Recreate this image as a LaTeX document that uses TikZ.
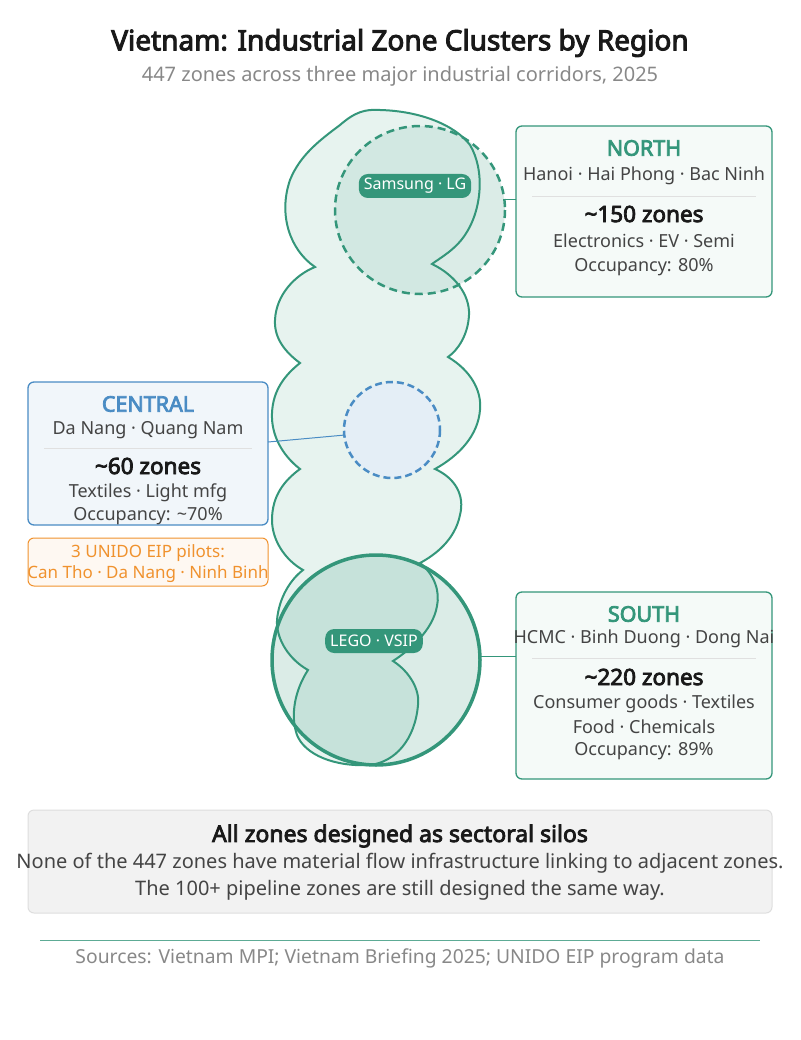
\documentclass[tikz,border=0pt]{standalone}
\usepackage{fontspec}
\setmainfont{Noto Sans}[AutoFakeBold=3.5]
\begin{document}
\definecolor{grn}{HTML}{34967A}
\definecolor{blu}{HTML}{4A8CC4}
\definecolor{org}{HTML}{F0922E}
\definecolor{gry}{HTML}{888888}
\definecolor{txt}{HTML}{444444}
\begin{tikzpicture}[x=1pt,y=-1pt,
  box/.style={draw, rounded corners=6pt, line width=1.3pt},
  t/.style={font=\fontsize{18}{20}\selectfont, text=txt},
  hd/.style={font=\fontsize{21.5}{23}\selectfont\bfseries},
  zn/.style={font=\fontsize{22.5}{24}\selectfont\bfseries, text=black!90},
  pill/.style={fill=grn, text=white, rounded corners=9pt, minimum height=24pt, inner xsep=5pt, font=\fontsize{16}{18}\selectfont}]
\useasboundingbox (0,0) rectangle (800,1040);
\node[font=\fontsize{28}{30}\selectfont\bfseries, text=black!90] (title) at (400,43) {Vietnam: Industrial Zone Clusters by Region};
\node[font=\fontsize{20}{22}\selectfont, text=gry] (sub) at (400,76) {447 zones across three major industrial corridors, 2025};
\def\outline{(315,267) .. controls (290,250) and (278,215) .. (290,180) .. controls (300,155) and (320,140) .. (340,125) .. controls (355,112) and (365,109) .. (380,110) .. controls (420,111) and (455,125) .. (470,145) .. controls (485,170) and (482,210) .. (465,235) .. controls (455,250) and (440,258) .. (432,264) .. controls (455,275) and (470,295) .. (469,315) .. controls (468,335) and (458,350) .. (448,357) .. controls (470,370) and (482,390) .. (480,410) .. controls (478,435) and (460,455) .. (435,469) .. controls (455,478) and (465,495) .. (460,515) .. controls (455,540) and (435,555) .. (420,563) .. controls (435,575) and (440,592) .. (437,606) .. controls (433,630) and (410,650) .. (393,661) .. controls (410,672) and (420,690) .. (418,705) .. controls (415,740) and (395,762) .. (370,765) .. controls (335,767) and (305,755) .. (297,735) .. controls (290,715) and (295,690) .. (308,670) .. controls (290,660) and (276,640) .. (277,620) .. controls (279,598) and (290,580) .. (303,570) .. controls (285,560) and (272,540) .. (272,520) .. controls (272,495) and (285,480) .. (300,469) .. controls (282,455) and (271,435) .. (272,413) .. controls (273,390) and (285,375) .. (300,363) .. controls (285,352) and (274,338) .. (275,320) .. controls (276,295) and (295,275) .. (315,267) -- cycle}
\fill[grn!12] \outline;
\fill[grn!18] (420,210) circle[x radius=85, y radius=84];
\begin{scope}\clip (420,210) circle[x radius=85, y radius=84]; \fill[grn!22] \outline; \end{scope}
\fill[grn!18] (376,660) circle[x radius=104, y radius=105];
\begin{scope}\clip (376,660) circle[x radius=104, y radius=105]; \fill[grn!28] \outline; \end{scope}
\fill[blu!15] (392,430) circle[radius=48];
\draw[grn, line width=2pt] \outline;
\draw[grn, line width=2.5pt, dash pattern=on 8pt off 5pt] (420,210) circle[x radius=85, y radius=84];
\draw[blu, line width=2.5pt, dash pattern=on 7pt off 4pt] (392,430) circle[radius=48];
\draw[grn, line width=3.5pt] (376,660) circle[x radius=104, y radius=105];
\coordinate (nc) at (505,200); \coordinate (cc) at (345,435); \coordinate (sc) at (480,656);
\node[pill] (p1) at (415,186) {Samsung · LG};
\node[pill] (p2) at (374,641) {LEGO · VSIP};
% North
\draw[box, grn, fill=grn!5] (516,126) rectangle (772,297);
\coordinate (nb) at (516,200);
\draw[grn, line width=1pt] (nc) -- (nb);
\node[hd, text=grn] (n1) at (644,148) {NORTH};
\node[t] (n2) at (644,176) {Hanoi · Hai Phong · Bac Ninh};
\draw[black!12] (532,196) -- (756,196);
\node[zn] (n3) at (644,214) {\textasciitilde150 zones};
\node[t] (n4) at (644,241) {Electronics · EV · Semi};
\node[t] (n5) at (644,267) {Occupancy: 80\%};
% Central
\draw[box, blu, fill=blu!8] (28,382) rectangle (268,525);
\coordinate (cb) at (268,442);
\draw[blu, line width=1pt] (cb) -- (cc);
\node[hd, text=blu] (c1) at (148,404) {CENTRAL};
\node[t] (c2) at (148,430) {Da Nang · Quang Nam};
\draw[black!12] (44,448) -- (252,448);
\node[zn] (c3) at (148,466) {\textasciitilde60 zones};
\node[t] (c4) at (148,493) {Textiles · Light mfg};
\node[t] (c5) at (148,516) {Occupancy: \textasciitilde70\%};
% UNIDO
\draw[box, org, fill=org!6, line width=1pt] (28,538) rectangle (268,586);
\node[font=\fontsize{17}{19}\selectfont, text=org] (u1) at (148,553) {3 UNIDO EIP pilots:};
\node[font=\fontsize{17}{19}\selectfont, text=org] (u2) at (148,574) {Can Tho · Da Nang · Ninh Binh};
% South
\draw[box, grn, fill=grn!5] (516,592) rectangle (772,779);
\coordinate (sb) at (516,656);
\draw[grn, line width=1pt] (sc) -- (sb);
\node[hd, text=grn] (s1) at (644,614) {SOUTH};
\node[t] (s2) at (644,639) {HCMC · Binh Duong · Dong Nai};
\draw[black!12] (532,658) -- (756,658);
\node[zn] (s3) at (644,677) {\textasciitilde220 zones};
\node[t] (s4) at (644,704) {Consumer goods · Textiles};
\node[t] (s5) at (644,727) {Food · Chemicals};
\node[t] (s6) at (644,751) {Occupancy: 89\%};
% Bottom
\draw[rounded corners=6pt, draw=black!13, fill=black!5, line width=1pt] (28,810) rectangle (772,913);
\node[font=\fontsize{23}{25}\selectfont\bfseries, text=black!90] (b1) at (400,836) {All zones designed as sectoral silos};
\node[font=\fontsize{20}{22}\selectfont, text=txt] (b2) at (400,863) {None of the 447 zones have material flow infrastructure linking to adjacent zones.};
\node[font=\fontsize{20}{22}\selectfont, text=txt] (b3) at (400,890) {The 100+ pipeline zones are still designed the same way.};
\draw[grn!80, line width=1pt] (40,940) -- (760,940);
\node[font=\fontsize{19.3}{21}\selectfont, text=gry] (src) at (400,958) {Sources: Vietnam MPI; Vietnam Briefing 2025; UNIDO EIP program data};
\end{tikzpicture}
\end{document}
